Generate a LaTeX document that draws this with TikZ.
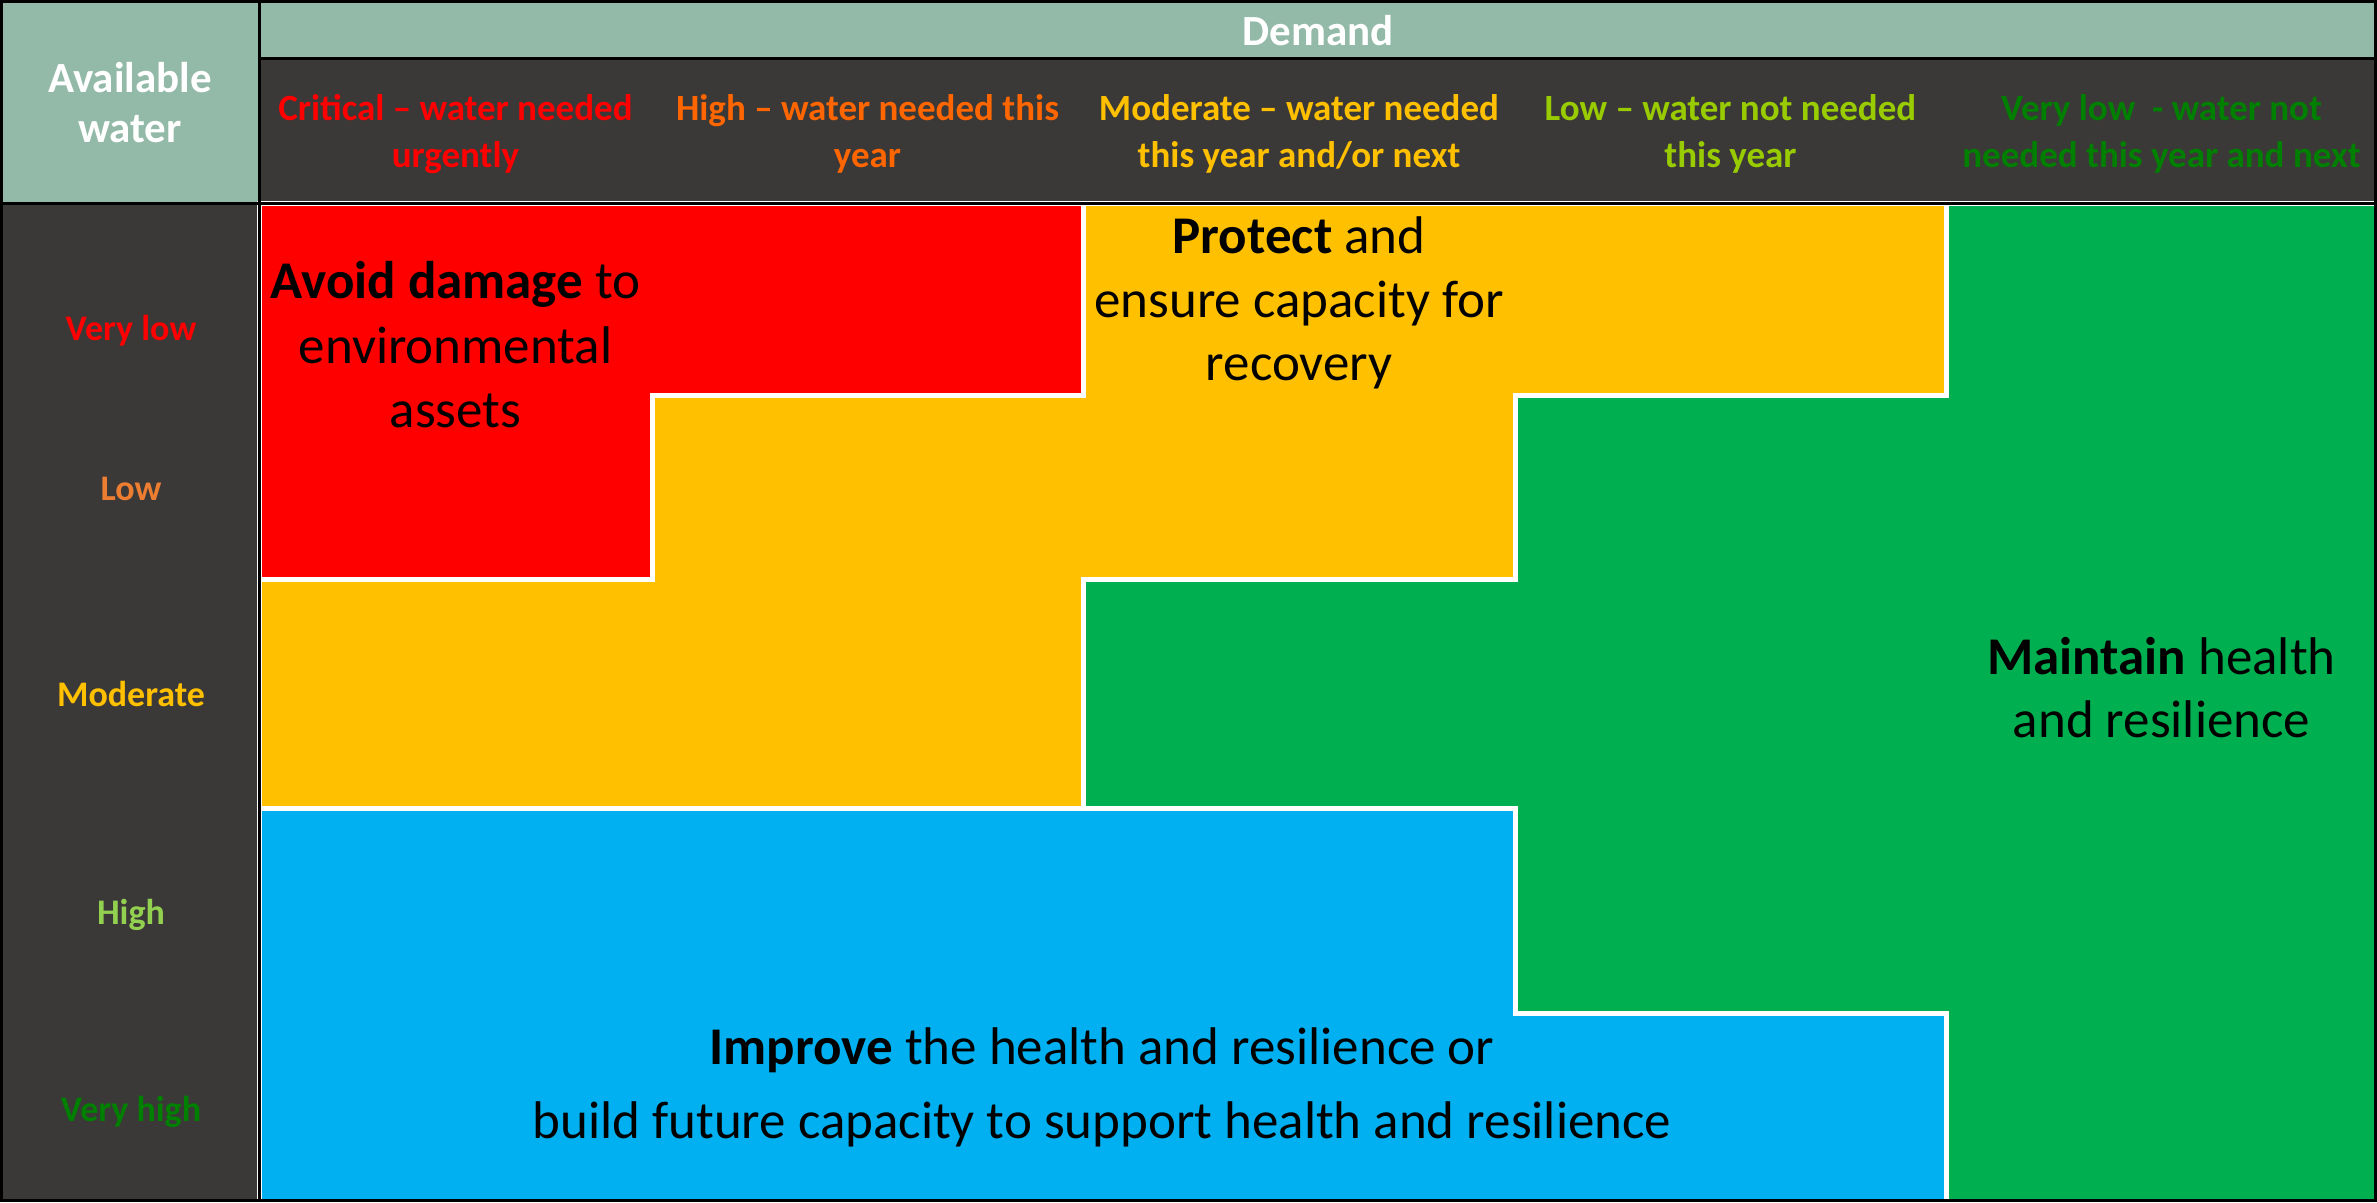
\documentclass[tikz,border=0pt]{standalone}
\usepackage{fontspec}
\setmainfont{Carlito}
\definecolor{hdrgreen}{HTML}{93BAA8}
\definecolor{dark}{HTML}{3B3838}
\definecolor{cred}{HTML}{FF0000}
\definecolor{cyellow}{HTML}{FFC000}
\definecolor{cgreen}{HTML}{00B050}
\definecolor{cblue}{HTML}{00B0F0}
\definecolor{corange}{HTML}{FF6600}
\definecolor{rorange}{HTML}{ED7D31}
\definecolor{clime}{HTML}{99CC00}
\definecolor{rlime}{HTML}{92D050}
\definecolor{cdkgreen}{HTML}{008000}
\tikzset{
  region/.style={draw=white, line width=5pt, line join=miter},
  grid/.style={draw=black, line width=3pt},
  txt/.style={anchor=base, inner sep=0pt},
  colhdr/.style={txt, font=\bfseries\fontsize{37}{44}\selectfont},
  rowhdr/.style={txt, font=\bfseries\fontsize{36}{44}\selectfont},
  title/.style={txt, text=white, font=\bfseries\fontsize{43}{52}\selectfont},
  big/.style={txt, font=\fontsize{53}{64}\selectfont}
}
\begin{document}
\begin{tikzpicture}[x=1pt, y=-1pt]
\useasboundingbox (0,0) rectangle (2377,1202);
% backgrounds
\fill[hdrgreen] (0,0) rectangle (259,203);
\fill[hdrgreen] (259,0) rectangle (2377,59);
\fill[dark] (259,59) rectangle (2377,203);
\fill[dark] (0,203) rectangle (259,1202);
% regions
\filldraw[fill=cred, region] (259,203) -- (1083,203) -- (1083,395) -- (652,395) -- (652,579) -- (259,579) -- cycle;
\filldraw[fill=cyellow, region] (1083,203) -- (1946,203) -- (1946,395) -- (1515,395) -- (1515,579) -- (1083,579) -- (1083,808) -- (259,808) -- (259,579) -- (652,579) -- (652,395) -- (1083,395) -- cycle;
\filldraw[fill=cgreen, region] (1946,203) -- (2377,203) -- (2377,1202) -- (1946,1202) -- (1946,1013) -- (1515,1013) -- (1515,808) -- (1083,808) -- (1083,579) -- (1515,579) -- (1515,395) -- (1946,395) -- cycle;
\filldraw[fill=cblue, region] (259,808) -- (1515,808) -- (1515,1013) -- (1946,1013) -- (1946,1202) -- (259,1202) -- cycle;
% black grid lines
\draw[grid] (1.5,1.5) rectangle (2375.5,1200.5);
\draw[grid] (259,58.5) -- (2377,58.5);
\draw[grid] (0,203) -- (2377,203);
\draw[grid] (259,0) -- (259,1202);
% header texts
\node[title] (avail1) at (130,92) {Available};
\node[title] (avail2) at (130,142) {water};
\node[title] (demand) at (1318,45) {Demand};
\node[colhdr, text=cred] (c1a) at (455.5,120) {Critical – water needed};
\node[colhdr, text=cred] (c1b) at (455.5,167) {urgently};
\node[colhdr, text=corange] (c2a) at (867.5,120) {High – water needed this};
\node[colhdr, text=corange] (c2b) at (867.5,167) {year};
\node[colhdr, text=cyellow] (c3a) at (1299,120) {Moderate – water needed};
\node[colhdr, text=cyellow] (c3b) at (1299,167) {this year and/or next};
\node[colhdr, text=clime] (c4a) at (1730.5,120) {Low – water not needed};
\node[colhdr, text=clime] (c4b) at (1730.5,167) {this year};
\node[colhdr, text=cdkgreen] (c5a) at (2161.5,120) {Very low\ \ - water not};
\node[colhdr, text=cdkgreen] (c5b) at (2161.5,167) {needed this year and next};
% row texts
\node[rowhdr, text=cred] (r1) at (131,340) {Very low};
\node[rowhdr, text=rorange] (r2) at (131,500) {Low};
\node[rowhdr, text=cyellow] (r3) at (131,706) {Moderate};
\node[rowhdr, text=rlime] (r4) at (131,924) {High};
\node[rowhdr, text=cdkgreen] (r5) at (131,1121) {Very high};
% region texts
\node[big] (avoid1) at (455.5,298) {\textbf{Avoid damage} to};
\node[big] (avoid2) at (455.5,363) {environmental};
\node[big] (avoid3) at (455.5,427) {assets};
\node[big] (prot1) at (1299,253) {\textbf{Protect} and};
\node[big] (prot2) at (1299,317) {ensure capacity for};
\node[big] (prot3) at (1299,380) {recovery};
\node[big] (maint1) at (2161.5,674) {\textbf{Maintain} health};
\node[big] (maint2) at (2161.5,737) {and resilience};
\node[big] (impr1) at (1102,1064) {\textbf{Improve} the health and resilience or};
\node[big] (impr2) at (1102,1138) {build future capacity to support health and resilience};
\end{tikzpicture}
\end{document}
